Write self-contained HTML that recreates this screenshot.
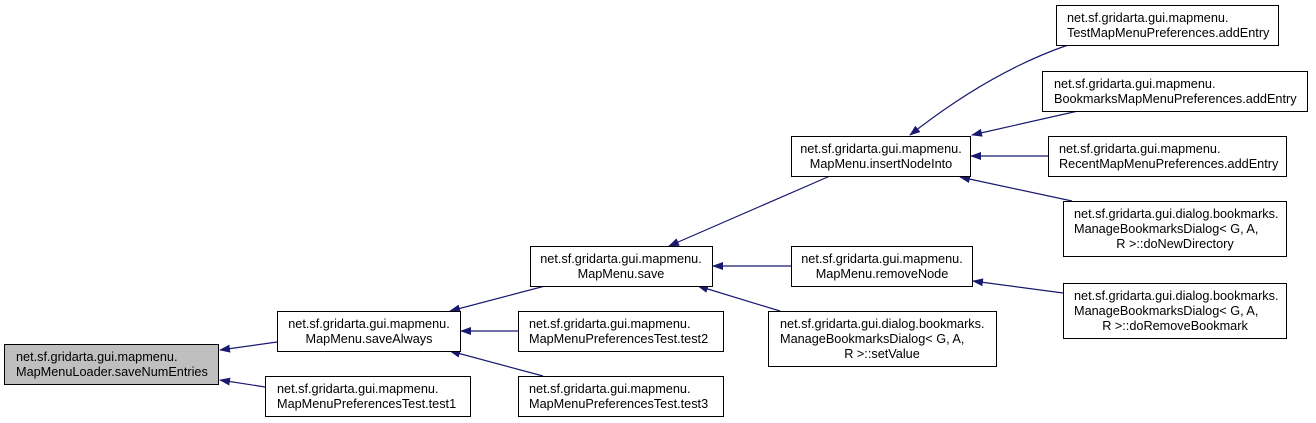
<!DOCTYPE html>
<html><head><meta charset="utf-8"><style>
html,body{margin:0;padding:0;background:#fff}
svg{display:block}
text{font-family:"Liberation Sans",Arial,sans-serif;font-size:12.7px;fill:#000}
</style></head><body>
<svg width="1316" height="423" viewBox="0 0 1316 423" xmlns="http://www.w3.org/2000/svg">
<defs>
<marker id="a" markerWidth="11" markerHeight="8" refX="10" refY="4" orient="auto" markerUnits="userSpaceOnUse">
<polygon points="0,0 11,4 0,8" fill="#191970"/>
</marker>
</defs>
<g stroke="#191970" stroke-width="1.2" fill="none" marker-end="url(#a)">
<line x1="277" y1="342" x2="220" y2="350"/>
<line x1="265" y1="387" x2="220" y2="380"/>
<line x1="545" y1="286" x2="450" y2="311"/>
<line x1="518" y1="331" x2="461" y2="331"/>
<line x1="543" y1="376" x2="450" y2="351"/>
<line x1="830" y1="176" x2="669" y2="246"/>
<line x1="791" y1="266" x2="713" y2="266"/>
<line x1="780" y1="311" x2="698" y2="286"/>
<path d="M1068,45 Q990,72 910,135"/>
<line x1="1078" y1="111" x2="972" y2="135"/>
<line x1="1048" y1="156" x2="971" y2="156"/>
<line x1="1072" y1="201" x2="960" y2="177"/>
<line x1="1063" y1="293" x2="973" y2="281"/>
</g>
<g stroke="#000" stroke-width="1">
<rect x="4.5" y="344.5" width="214" height="40" fill="#bfbfbf"/>
<rect x="277.5" y="311.5" width="183" height="40" fill="#fff"/>
<rect x="265.5" y="376.5" width="205" height="40" fill="#fff"/>
<rect x="530.5" y="246.5" width="182" height="40" fill="#fff"/>
<rect x="518.5" y="311.5" width="205" height="40" fill="#fff"/>
<rect x="518.5" y="376.5" width="205" height="40" fill="#fff"/>
<rect x="791.5" y="136.5" width="179" height="40" fill="#fff"/>
<rect x="791.5" y="246.5" width="181" height="40" fill="#fff"/>
<rect x="768.5" y="311.5" width="228" height="55" fill="#fff"/>
<rect x="1056.5" y="5.5" width="222" height="40" fill="#fff"/>
<rect x="1042.5" y="71.5" width="265" height="40" fill="#fff"/>
<rect x="1048.5" y="136.5" width="238" height="40" fill="#fff"/>
<rect x="1063.5" y="201.5" width="223" height="55" fill="#fff"/>
<rect x="1063.5" y="283.5" width="223" height="55" fill="#fff"/>
</g>
<g>
<text x="16" y="361">net.sf.gridarta.gui.mapmenu.</text>
<text x="16" y="376">MapMenuLoader.saveNumEntries</text>
<text x="369" y="328" text-anchor="middle">net.sf.gridarta.gui.mapmenu.</text>
<text x="369" y="343" text-anchor="middle">MapMenu.saveAlways</text>
<text x="277" y="393">net.sf.gridarta.gui.mapmenu.</text>
<text x="277" y="408">MapMenuPreferencesTest.test1</text>
<text x="621" y="263" text-anchor="middle">net.sf.gridarta.gui.mapmenu.</text>
<text x="621" y="278" text-anchor="middle">MapMenu.save</text>
<text x="529" y="328">net.sf.gridarta.gui.mapmenu.</text>
<text x="529" y="343">MapMenuPreferencesTest.test2</text>
<text x="529" y="393">net.sf.gridarta.gui.mapmenu.</text>
<text x="529" y="408">MapMenuPreferencesTest.test3</text>
<text x="881" y="153" text-anchor="middle">net.sf.gridarta.gui.mapmenu.</text>
<text x="881" y="168" text-anchor="middle">MapMenu.insertNodeInto</text>
<text x="882" y="263" text-anchor="middle">net.sf.gridarta.gui.mapmenu.</text>
<text x="882" y="278" text-anchor="middle">MapMenu.removeNode</text>
<text x="780" y="328">net.sf.gridarta.gui.dialog.bookmarks.</text>
<text x="780" y="343">ManageBookmarksDialog&lt; G, A,</text>
<text x="882" y="358" text-anchor="middle">R &gt;::setValue</text>
<text x="1067" y="22">net.sf.gridarta.gui.mapmenu.</text>
<text x="1067" y="37">TestMapMenuPreferences.addEntry</text>
<text x="1054" y="88">net.sf.gridarta.gui.mapmenu.</text>
<text x="1054" y="103">BookmarksMapMenuPreferences.addEntry</text>
<text x="1059" y="153">net.sf.gridarta.gui.mapmenu.</text>
<text x="1059" y="168">RecentMapMenuPreferences.addEntry</text>
<text x="1074" y="218">net.sf.gridarta.gui.dialog.bookmarks.</text>
<text x="1074" y="233">ManageBookmarksDialog&lt; G, A,</text>
<text x="1175" y="248" text-anchor="middle">R &gt;::doNewDirectory</text>
<text x="1074" y="300">net.sf.gridarta.gui.dialog.bookmarks.</text>
<text x="1074" y="315">ManageBookmarksDialog&lt; G, A,</text>
<text x="1175" y="330" text-anchor="middle">R &gt;::doRemoveBookmark</text>
</g>
</svg>
</body></html>
